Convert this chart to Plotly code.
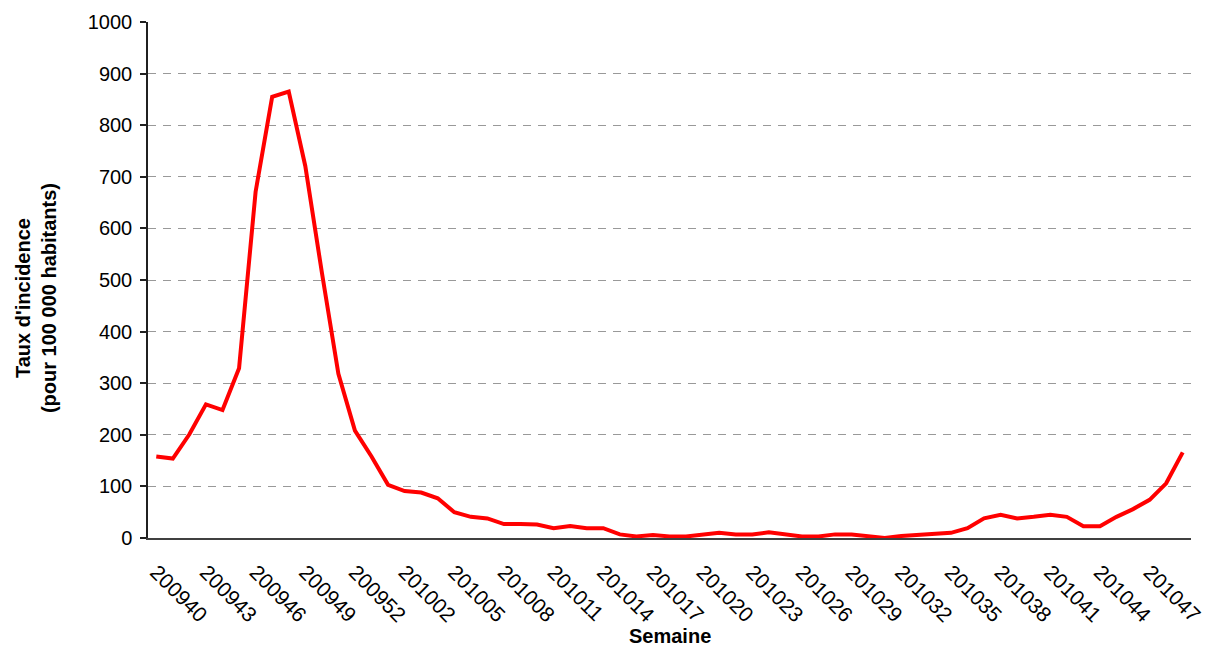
import numpy as np
import plotly.graph_objects as go

weeks = [
    "200940", "200941", "200942", "200943", "200944", "200945", "200946", "200947",
    "200948", "200949", "200950", "200951", "200952", "200953",
    "201001", "201002", "201003", "201004", "201005", "201006", "201007", "201008",
    "201009", "201010", "201011", "201012", "201013", "201014", "201015", "201016",
    "201017", "201018", "201019", "201020", "201021", "201022", "201023", "201024",
    "201025", "201026", "201027", "201028", "201029", "201030", "201031", "201032",
    "201033", "201034", "201035", "201036", "201037", "201038", "201039", "201040",
    "201041", "201042", "201043", "201044", "201045", "201046", "201047", "201048",
    "201049",
]

incidence = [
    158, 154, 201, 259, 248, 329, 671, 855, 865, 721, 515, 318, 208, 158,
    103, 91, 88, 77, 50, 41, 38, 27, 27, 26, 19, 23, 19, 19, 7, 3,
    6, 3, 3, 7, 10, 7, 7, 11, 7, 3, 3, 7, 7, 3, 0, 4,
    6, 7, 10, 19, 38, 45, 38, 41, 45, 41, 23, 23, 41, 56, 74, 106,
    166,
]

tick_labels = [
    "200940", "200943", "200946", "200949", "200952", "201002", "201005",
    "201008", "201011", "201014", "201017", "201020", "201023", "201026",
    "201029", "201032", "201035", "201038", "201041", "201044", "201047",
]

y_ticks = [0, 100, 200, 300, 400, 500, 600, 700, 800, 900, 1000]

FONT = "Liberation Sans, Arial, sans-serif"
n = len(weeks)

fig = go.Figure()
fig.add_trace(go.Scatter(
    x=weeks, y=incidence, mode="lines",
    line=dict(color="#FF0000", width=4),
    hoverinfo="x+y", showlegend=False,
))

fig.update_layout(
    width=1211, height=640,
    margin=dict(l=140, r=28, t=14, b=110, autoexpand=False),
    paper_bgcolor="white", plot_bgcolor="white",
    font=dict(family=FONT, size=20, color="black"),
    xaxis=dict(
        type="category", automargin=False,
        range=[-0.5, n - 0.5],
        tickmode="array", tickvals=tick_labels, ticktext=tick_labels,
        tickangle=45, ticks="", showgrid=False,
        showline=True, linecolor="#404040", linewidth=1.5,
        tickfont=dict(family=FONT, size=21),
        ticklabelstandoff=12,
        zeroline=False,
    ),
    xaxis2=dict(
        overlaying="x", anchor="y", side="bottom", type="linear",
        automargin=False,
        range=[-0.5, n - 0.5],
        tickmode="array", tickvals=list(np.arange(-0.5, n - 0.5, 2)),
        ticks="outside", ticklen=5, tickwidth=1.5, tickcolor="#404040",
        showticklabels=False, showgrid=False, showline=False, zeroline=False,
    ),
    yaxis=dict(
        automargin=False,
        range=[0, 1000],
        tickmode="array", tickvals=y_ticks,
        ticks="outside", ticklen=6, tickwidth=1.5, tickcolor="#202020",
        showline=True, linecolor="#202020", linewidth=1.5,
        showgrid=True, gridcolor="#999999", gridwidth=1, griddash="8px,7px",
        zeroline=False,
        tickfont=dict(family=FONT, size=20),
        ticklabelstandoff=4,
    ),
    annotations=[
        dict(
            text="<b>Taux d'incidence<br>(pour 100 000 habitants)</b>",
            xref="paper", yref="paper", x=0, y=0.465, xshift=-112,
            xanchor="center", yanchor="middle", textangle=-90, showarrow=False,
            font=dict(family=FONT, size=20, color="black"),
        ),
        dict(
            text="<b>Semaine</b>",
            xref="paper", yref="paper", x=0.5005, y=0, yshift=-98,
            xanchor="center", yanchor="middle", showarrow=False,
            font=dict(family=FONT, size=20, color="black"),
        ),
    ],
)

fig.write_html("out.html")
